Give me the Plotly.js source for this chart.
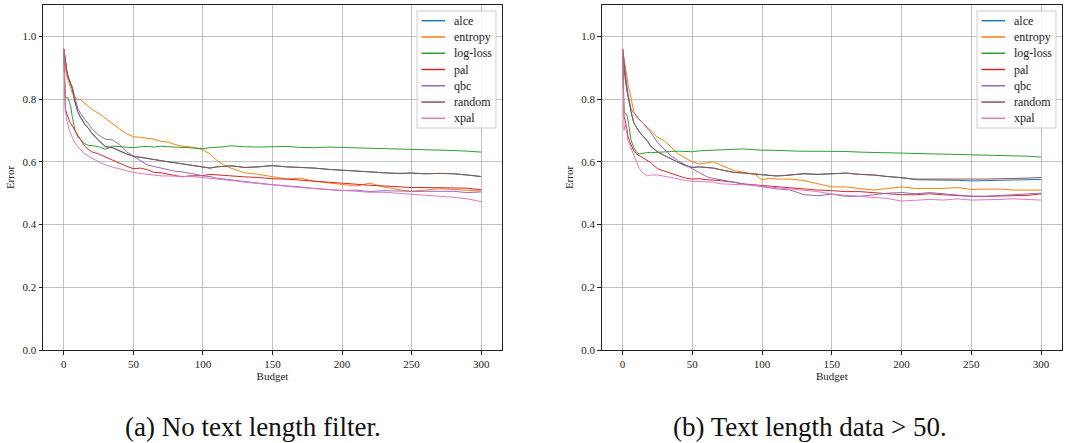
<!DOCTYPE html>
<html>
<head>
<meta charset="utf-8">
<script src="https://cdn.plot.ly/plotly-3.0.1.min.js"></script>
<style>html,body{margin:0;padding:0;background:#fff;}#chart{width:1078px;height:443px;}</style>
</head>
<body>
<div id="chart"></div>
<script>
const budget = [0,1,2,3,4,5,6,8,10,12,15,18,20,25,30,35,40,45,50,55,60,65,70,75,80,85,90,95,100,105,110,115,120,125,130,140,150,160,170,180,190,200,210,220,230,240,250,260,270,280,290,300];
const methods = ["alce","entropy","log-loss","pal","qbc","random","xpal"];
const colors = ["#1f77b4","#ff7f0e","#2ca02c","#d62728","#9467bd","#8c564b","#e377c2"];

// (a) No text length filter
const a_alce    = [0.96,0.92,0.89,0.87,0.856,0.845,0.835,0.79,0.76,0.742,0.72,0.705,0.692,0.668,0.648,0.645,0.635,0.625,0.618,0.614,0.61,0.607,0.602,0.6,0.597,0.594,0.59,0.588,0.585,0.58,0.584,0.585,0.587,0.585,0.582,0.584,0.588,0.584,0.583,0.58,0.576,0.574,0.572,0.568,0.565,0.563,0.564,0.562,0.563,0.562,0.558,0.553];
const a_entropy = [0.96,0.90,0.875,0.86,0.845,0.835,0.82,0.805,0.80,0.798,0.787,0.775,0.768,0.755,0.738,0.722,0.705,0.69,0.68,0.678,0.676,0.672,0.665,0.663,0.655,0.65,0.648,0.645,0.638,0.625,0.605,0.59,0.58,0.572,0.565,0.56,0.553,0.545,0.548,0.538,0.533,0.528,0.523,0.532,0.52,0.512,0.506,0.51,0.514,0.512,0.51,0.507];
const a_logloss = [0.96,0.805,0.805,0.803,0.79,0.775,0.745,0.70,0.68,0.67,0.658,0.652,0.652,0.648,0.64,0.65,0.648,0.647,0.645,0.648,0.649,0.647,0.65,0.648,0.647,0.648,0.645,0.643,0.642,0.645,0.646,0.648,0.651,0.649,0.648,0.647,0.648,0.649,0.646,0.645,0.647,0.646,0.645,0.644,0.642,0.641,0.64,0.638,0.637,0.636,0.634,0.631];
const a_pal     = [0.96,0.77,0.755,0.74,0.73,0.722,0.716,0.70,0.685,0.67,0.65,0.638,0.632,0.625,0.615,0.605,0.595,0.586,0.578,0.58,0.575,0.566,0.565,0.56,0.556,0.552,0.555,0.556,0.556,0.56,0.558,0.557,0.555,0.553,0.552,0.55,0.546,0.545,0.541,0.538,0.535,0.532,0.528,0.525,0.523,0.52,0.518,0.518,0.518,0.518,0.516,0.511];
const a_qbc     = [0.96,0.92,0.895,0.875,0.86,0.85,0.84,0.80,0.77,0.755,0.735,0.72,0.706,0.685,0.672,0.67,0.655,0.632,0.618,0.603,0.59,0.585,0.58,0.575,0.57,0.568,0.565,0.56,0.555,0.553,0.548,0.545,0.542,0.54,0.538,0.532,0.527,0.524,0.52,0.515,0.512,0.508,0.51,0.505,0.508,0.506,0.506,0.506,0.505,0.506,0.502,0.504];
const a_random  = [0.96,0.92,0.89,0.87,0.856,0.845,0.835,0.79,0.76,0.742,0.72,0.705,0.692,0.668,0.648,0.645,0.635,0.625,0.618,0.614,0.61,0.607,0.602,0.6,0.597,0.594,0.59,0.588,0.585,0.58,0.584,0.585,0.587,0.585,0.582,0.584,0.588,0.584,0.583,0.58,0.576,0.574,0.572,0.568,0.565,0.563,0.564,0.562,0.563,0.562,0.558,0.553];
const a_xpal    = [0.96,0.765,0.735,0.715,0.70,0.688,0.678,0.66,0.648,0.638,0.625,0.618,0.612,0.6,0.59,0.583,0.577,0.571,0.566,0.563,0.56,0.556,0.555,0.555,0.555,0.554,0.553,0.552,0.55,0.548,0.545,0.543,0.54,0.538,0.535,0.53,0.525,0.522,0.518,0.515,0.512,0.51,0.507,0.503,0.503,0.5,0.497,0.493,0.49,0.487,0.482,0.473];

// (b) Text length data > 50
const b_alce    = [0.96,0.90,0.86,0.83,0.80,0.785,0.76,0.725,0.71,0.695,0.68,0.665,0.65,0.632,0.62,0.608,0.598,0.588,0.582,0.584,0.582,0.58,0.575,0.57,0.566,0.565,0.563,0.561,0.56,0.558,0.555,0.556,0.558,0.56,0.562,0.56,0.562,0.564,0.56,0.558,0.553,0.55,0.543,0.543,0.543,0.541,0.539,0.541,0.541,0.542,0.543,0.544];
const b_entropy = [0.96,0.93,0.895,0.87,0.845,0.825,0.80,0.76,0.742,0.733,0.722,0.71,0.70,0.678,0.667,0.645,0.625,0.612,0.60,0.593,0.596,0.60,0.59,0.58,0.572,0.568,0.565,0.56,0.542,0.548,0.545,0.546,0.545,0.543,0.54,0.53,0.52,0.52,0.515,0.51,0.515,0.52,0.515,0.515,0.515,0.518,0.512,0.513,0.513,0.51,0.51,0.51];
const b_logloss = [0.96,0.76,0.755,0.75,0.73,0.70,0.67,0.645,0.63,0.625,0.628,0.63,0.629,0.631,0.632,0.633,0.634,0.633,0.632,0.635,0.636,0.637,0.638,0.64,0.64,0.641,0.64,0.638,0.637,0.637,0.637,0.636,0.635,0.634,0.634,0.632,0.633,0.633,0.631,0.63,0.629,0.629,0.627,0.626,0.625,0.624,0.624,0.623,0.621,0.62,0.618,0.615];
const b_pal     = [0.96,0.745,0.73,0.70,0.68,0.665,0.655,0.635,0.625,0.62,0.613,0.605,0.598,0.578,0.57,0.563,0.555,0.548,0.545,0.546,0.543,0.542,0.54,0.537,0.535,0.53,0.528,0.526,0.525,0.522,0.52,0.519,0.518,0.516,0.514,0.51,0.508,0.505,0.505,0.502,0.498,0.495,0.495,0.498,0.495,0.492,0.49,0.49,0.49,0.492,0.493,0.498];
const b_qbc     = [0.96,0.92,0.88,0.84,0.81,0.79,0.77,0.755,0.748,0.735,0.722,0.705,0.695,0.662,0.64,0.618,0.603,0.59,0.578,0.565,0.553,0.547,0.543,0.537,0.533,0.53,0.527,0.524,0.52,0.516,0.514,0.512,0.51,0.503,0.495,0.492,0.497,0.49,0.49,0.495,0.50,0.502,0.498,0.502,0.498,0.493,0.49,0.49,0.492,0.495,0.498,0.50];
const b_random  = [0.96,0.90,0.86,0.83,0.80,0.785,0.76,0.725,0.71,0.695,0.68,0.665,0.65,0.632,0.62,0.608,0.598,0.588,0.582,0.584,0.582,0.58,0.575,0.57,0.566,0.565,0.563,0.561,0.56,0.558,0.555,0.556,0.558,0.56,0.562,0.56,0.562,0.564,0.56,0.558,0.553,0.55,0.545,0.545,0.545,0.545,0.543,0.545,0.546,0.546,0.548,0.55];
const b_xpal    = [0.96,0.70,0.72,0.69,0.665,0.655,0.645,0.625,0.60,0.578,0.562,0.555,0.558,0.558,0.555,0.55,0.545,0.54,0.538,0.537,0.537,0.535,0.53,0.529,0.528,0.528,0.527,0.525,0.522,0.52,0.518,0.516,0.515,0.512,0.51,0.505,0.497,0.493,0.49,0.487,0.483,0.475,0.478,0.48,0.478,0.482,0.478,0.478,0.48,0.482,0.48,0.478];

const xTicks = [0,50,100,150,200,250,300];
const yTicks = [0.0,0.2,0.4,0.6,0.8,1.0];
const captions = ["(a) No text length filter.", "(b) Text length data > 50."];

const seriesA = [a_alce,a_entropy,a_logloss,a_pal,a_qbc,a_random,a_xpal];
const seriesB = [b_alce,b_entropy,b_logloss,b_pal,b_qbc,b_random,b_xpal];

const traces = [];
methods.forEach((m,i)=>{
  traces.push({x:budget,y:seriesA[i],name:m,type:'scatter',mode:'lines',
    line:{color:colors[i],width:1},xaxis:'x',yaxis:'y',showlegend:false});
});
methods.forEach((m,i)=>{
  traces.push({x:budget,y:seriesB[i],name:m,type:'scatter',mode:'lines',
    line:{color:colors[i],width:1},xaxis:'x2',yaxis:'y2',showlegend:false});
});

const W = 1078, H = 443, ML = 43, MR = 16, MT = 5, MB = 93;
const PW = W - ML - MR, PH = H - MT - MB;
const px = v => (v - ML) / PW;          // pixel -> paper x
const py = v => (H - MB - v) / PH;      // pixel -> paper y

const fam = '"Liberation Serif", "DejaVu Serif", serif';
const font = {family:fam, size:11, color:'#222'};
function xa(dom, anchor){
  return {domain:dom, anchor:anchor, range:[-15,315], tickvals:xTicks, ticktext:xTicks.map(String),
    showgrid:true, gridcolor:'#b0b0b0', gridwidth:0.8, zeroline:false,
    showline:true, linecolor:'#222', linewidth:1, mirror:true,
    ticks:'outside', ticklen:3.5, tickcolor:'#222', tickfont:font,
    title:{text:'Budget', font:font, standoff:3}};
}
function ya(anchor){
  return {domain:[0,1], anchor:anchor, range:[0,1.1], tickvals:yTicks, ticktext:yTicks.map(v=>v.toFixed(1)),
    showgrid:true, gridcolor:'#b0b0b0', gridwidth:0.8, zeroline:false,
    showline:true, linecolor:'#222', linewidth:1, mirror:true,
    ticks:'outside', ticklen:3.5, tickcolor:'#222', tickfont:font,
    title:{text:'Error', font:font, standoff:5}};
}

// hand-built legends (matplotlib-like compact spacing)
const shapes = [], annotations = [];
[0, 560].forEach(off => {
  shapes.push({type:'rect', xref:'paper', yref:'paper',
    x0:px(417+off), x1:px(496+off), y0:py(128), y1:py(11),
    fillcolor:'rgba(255,255,255,0.85)', line:{color:'#cccccc', width:1}, layer:'above'});
  methods.forEach((m,i)=>{
    const yc = 20.7 + i*16.27;
    shapes.push({type:'line', xref:'paper', yref:'paper',
      x0:px(421.5+off), x1:px(445+off), y0:py(yc), y1:py(yc),
      line:{color:colors[i], width:1.5}, layer:'above'});
    annotations.push({text:m, xref:'paper', yref:'paper', x:px(452+off), y:py(yc),
      xanchor:'left', yanchor:'middle', showarrow:false,
      font:{family:fam, size:12, color:'#222'}});
  });
});
annotations.push(
  {text:captions[0], xref:'paper', yref:'paper', x:px(253), y:py(427), xanchor:'center', yanchor:'middle',
   showarrow:false, font:{family:fam, size:27, color:'#111'}},
  {text:captions[1], xref:'paper', yref:'paper', x:px(810), y:py(427), xanchor:'center', yanchor:'middle',
   showarrow:false, font:{family:fam, size:27, color:'#111'}}
);

const layout = {
  width:W, height:H,
  margin:{l:ML, r:MR, t:MT, b:MB},
  paper_bgcolor:'#fff', plot_bgcolor:'#fff',
  font:font,
  showlegend:false,
  xaxis: xa([0,px(502)],'y'),
  yaxis: ya('x'),
  xaxis2: xa([px(601.7),1],'y2'),
  yaxis2: ya('x2'),
  shapes: shapes,
  annotations: annotations
};

Plotly.newPlot('chart', traces, layout, {displayModeBar:false, staticPlot:true});
</script>
</body>
</html>
